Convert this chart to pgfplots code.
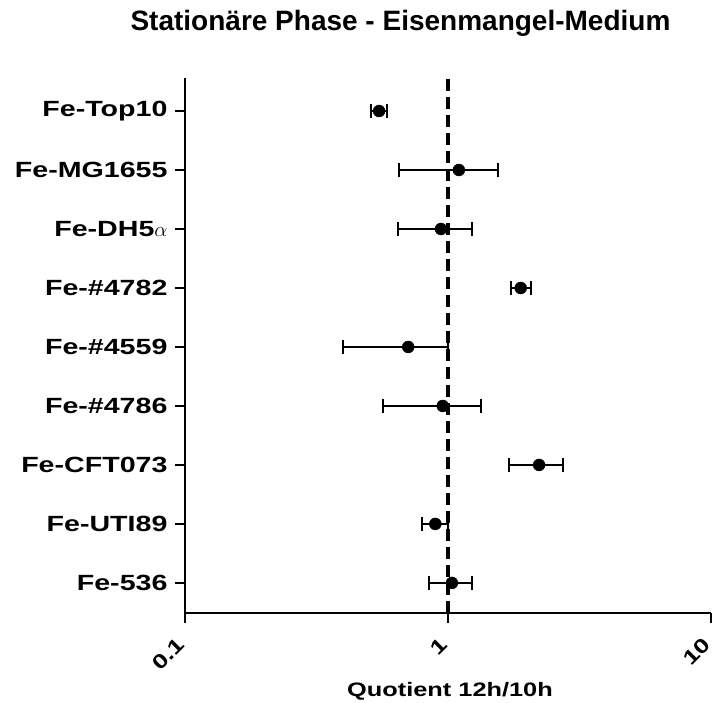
\documentclass[border=0pt]{standalone}
\usepackage{fontspec}
\setmainfont{Liberation Sans}[FakeStretch=1.3]
\newfontfamily\titlefont{Liberation Sans}
\usepackage{pgfplots}
\pgfplotsset{compat=1.18}
\usepackage{pgfplotstable}
\pgfplotstableread{
y x ep em
9 0.547 0.038 0.039
8 1.100 0.445 0.447
7 0.940 0.297 0.296
6 1.890 0.180 0.150
5 0.706 0.294 0.308
4 0.955 0.385 0.387
3 2.220 0.520 0.510
2 0.895 0.105 0.101
1 1.035 0.195 0.186
}\datatable
\begin{document}
\begin{tikzpicture}[x=1pt,y=1pt]
\path[use as bounding box] (0,0) rectangle (717,703);
\begin{axis}[
  at={(185pt,90pt)}, anchor=south west,
  scale only axis, width=526pt, height=535pt,
  xmode=log, xmin=0.1, xmax=10, ymin=0.49, ymax=9.56,
  axis x line=bottom, axis y line=left,
  axis line style={-, line width=2.7pt},
  xtick={0.1,1,10}, xticklabels={0.1,1,10},
  ytick={1,2,3,4,5,6,7,8,9},
  yticklabels={Fe-536,Fe-UTI89,Fe-CFT073,Fe-\#4786,Fe-\#4559,Fe-\#4782,Fe-DH5$\alpha$,Fe-MG1655,Fe-Top10},
  xminorticks=false, yminorticks=false,
  tick align=outside, major tick length=10pt,
  every tick/.style={black, line width=2.7pt},
  yticklabel style={font=\bfseries\fontsize{22}{24}\selectfont, anchor=east, xshift=-4pt},
  xticklabel style={font=\bfseries\fontsize{20}{22}\selectfont, xshift=-1.5pt, yshift=-15.5pt, rotate=45, anchor=east},
  clip=false,
]
\addplot[black, line width=3.5pt, dash pattern=on 12pt off 6pt] coordinates {(1,0.49) (1,9.56)};
\addplot[black, only marks, mark=*, mark size=6pt,
  error bars/.cd, x dir=both, x explicit,
  error bar style={line width=2pt, black},
  error mark options={rotate=90, mark size=7pt, line width=2pt, black}]
  table[x=x, y=y, x error plus=ep, x error minus=em] {\datatable};
\end{axis}
\node[anchor=base] at (400.5,672) {\titlefont\bfseries\fontsize{28}{30}\selectfont Stationäre Phase - Eisenmangel-Medium};
\node[anchor=base] at (450,6) {\bfseries\fontsize{19.5}{21}\selectfont Quotient 12h/10h};
\end{tikzpicture}
\end{document}
